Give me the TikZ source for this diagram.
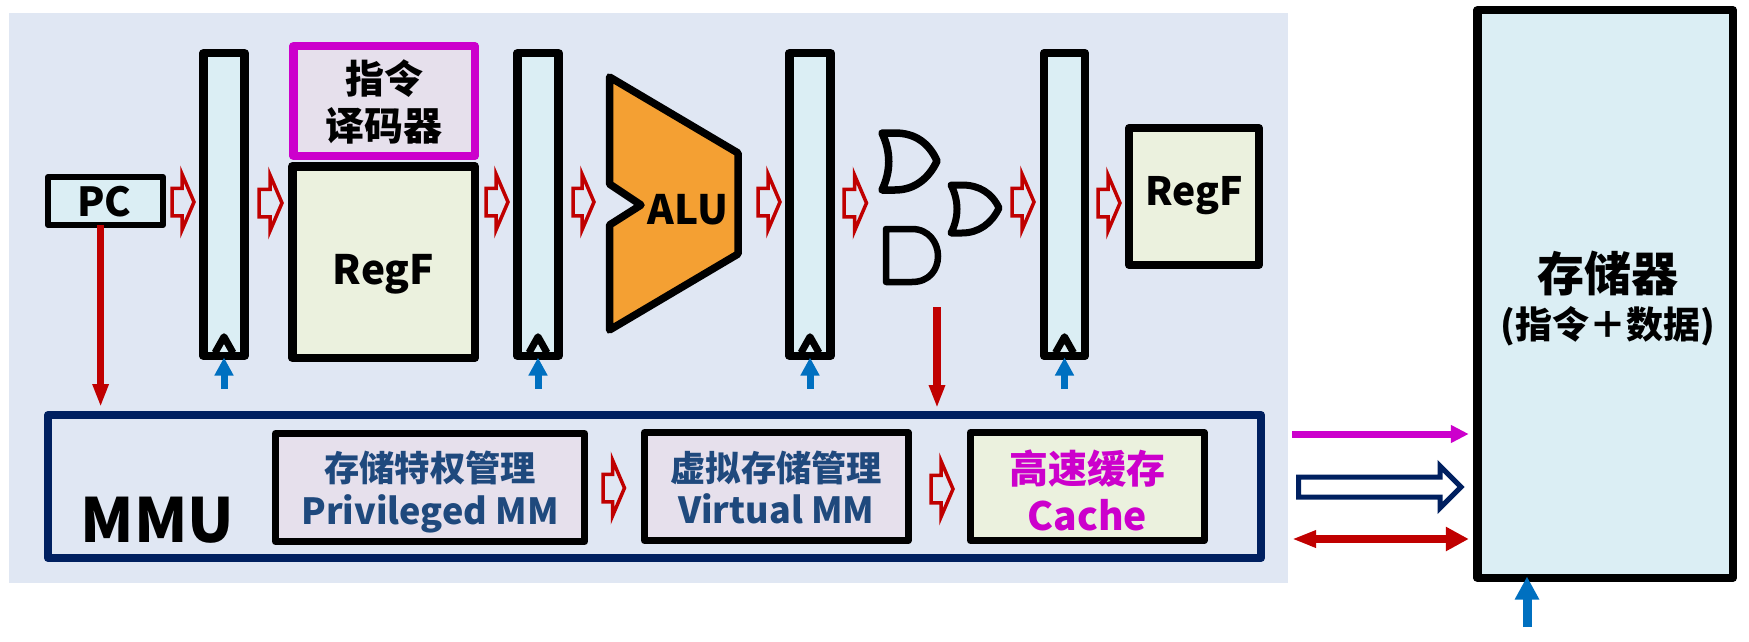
\documentclass[tikz,border=0pt]{standalone}
\usepackage{fontspec}
\setmainfont{Noto Sans CJK SC}
\usetikzlibrary{arrows.meta,calc}
\newdimen\upx \upx=0.75pt
\newcommand{\sz}[2]{\fontsize{\dimexpr#1\upx\relax}{\dimexpr#2\upx\relax}\selectfont}
\newcommand{\tx}[2]{\raisebox{-#1\upx}[0pt][0pt]{\begin{tabular}[c]{@{}c@{}}#2\end{tabular}}}
\definecolor{bgblue}{HTML}{E0E7F3}
\definecolor{regfill}{HTML}{DBEEF4}
\definecolor{greenfill}{HTML}{EBF1DE}
\definecolor{lilac}{HTML}{E6E0EC}
\definecolor{magen}{HTML}{CC00CC}
\definecolor{navy}{HTML}{002060}
\definecolor{dred}{HTML}{C00000}
\definecolor{clockblue}{HTML}{0070C0}
\definecolor{textblue}{HTML}{1F497D}
\definecolor{aluorange}{HTML}{F4A033}
\tikzset{
  x=0.75pt,y=-0.75pt,
  box/.style={draw=black,line width=8.5\upx,line join=round,inner sep=0pt,outer sep=0pt,font=\bfseries},
  regbar/.style={box,fill=regfill,minimum width=41\upx,minimum height=302.5\upx},
  mmbox/.style={box,line width=7\upx,minimum height=108\upx},
  gate/.style={draw=black,line width=7.5\upx,line join=round},
  clk/.style={draw=black,line width=7\upx,line join=round},
  redline/.style={draw=dred,line width=7.5\upx,-{Triangle[length=17.25pt,width=11.25pt]}},
  blueline/.style={draw=clockblue,line width=7\upx,-{Triangle[length=13.5pt,width=13.5pt]}},
  % tail gap, tip gap, shaft half width, head half width, head length, line width, colour
  hollow/.style n args={7}{draw=#7,line width=#6\upx,miter limit=12,to path={
    let \p1=(\tikztostart),\p2=(\tikztotarget) in
    (\x1+#1\upx,\y1+#3\upx) -- (\x2-#2\upx-#5\upx,\y1+#3\upx) -- (\x2-#2\upx-#5\upx,\y1+#4\upx)
    -- (\x2-#2\upx,\y1) -- (\x2-#2\upx-#5\upx,\y1-#4\upx) -- (\x2-#2\upx-#5\upx,\y1-#3\upx)
    -- (\x1+#1\upx,\y1-#3\upx) -- cycle}},
  flow/.style 2 args={hollow={#1}{#2}{13.75}{28}{12}{3.5}{dred}},
}
\begin{document}
\begin{tikzpicture}
\useasboundingbox (0,0) rectangle (1749,642);
\fill[bgblue] (9,13) rectangle (1288,583);

% pipeline registers and blocks
\node[box,line width=6\upx,fill=regfill,minimum width=115\upx,minimum height=48\upx,font=\bfseries\sz{40}{39}] (pc) at (105.5,201) {\tx{14.5}{\hspace*{-2\upx}PC}};
\node[regbar] (r1) at (224,204.5) {};
\node[regbar] (r2) at (538,204.5) {};
\node[regbar] (r3) at (810,204.5) {};
\node[regbar] (r4) at (1064.5,204.5) {};
\node[box,draw=magen,fill=lilac,minimum width=181.5\upx,minimum height=109.5\upx,font=\bfseries\sz{39}{47}] (dec) at (384,101) {\tx{14}{指令\\译码器}};
\node[box,fill=greenfill,minimum width=182.5\upx,minimum height=191.5\upx,font=\bfseries\sz{40.5}{39}] (regf) at (383.5,262) {\tx{21.5}{RegF}};
\node[box,line width=8\upx,fill=greenfill,minimum width=130\upx,minimum height=137\upx,font=\bfseries\sz{39}{39}] (regg) at (1194,196.5) {\tx{9}{RegF}};

% ALU
\draw[draw=black,fill=aluorange,line width=7.5\upx,line join=round,miter limit=12]
  (609.5,77) -- (738,153) -- (738,254) -- (609.5,330) -- (609.5,225) -- (641,205) -- (609.5,184) -- cycle;
\coordinate (aluin) at (610,205);
\coordinate (aluout) at (738,205);
\node[font=\bfseries\sz{40.5}{39},inner sep=0pt] (alu) at (688,208) {\tx{15.5}{ALU}};

% gates
\draw[gate] (882,133) -- (895,133) .. controls (915,133) and (929,143) .. (937,161)
  .. controls (929,178) and (915,190) .. (895,190) -- (882,190)
  .. controls (891,171) and (891,152) .. (882,133) -- cycle;
\draw[gate,line width=7\upx] (951,185) -- (962,185) .. controls (979,185) and (992,193) .. (999,208)
  .. controls (992,223) and (979,233) .. (962,233) -- (951,233)
  .. controls (959,217) and (959,201) .. (951,185) -- cycle;
\draw[gate,line width=6.5\upx] (886,229) -- (912,229) .. controls (929,229) and (938,243) .. (938,256)
  .. controls (938,270) and (929,282) .. (912,282) -- (886,282) -- cycle;
\coordinate (gatein) at (884,161);
\coordinate (gateout) at (998,208);

% MMU
\node[box,draw=navy,line width=8\upx,minimum width=1213\upx,minimum height=143\upx] (mmu) at (654.5,486.5) {};
\node[font=\bfseries\sz{61}{59},inner sep=0pt] (mmulabel) at (157.5,515) {\tx{22}{MMU}};
\node[mmbox,fill=lilac,minimum width=309\upx,text=textblue,font=\bfseries\sz{36}{42}] (pm) at (430,487.5) {\tx{15}{\sz{35.3}{42}存储特权管理\\Privileged MM}};
\node[mmbox,fill=lilac,minimum width=263.6\upx,text=textblue,font=\bfseries\sz{36}{42}] (vm) at (776.3,486.5) {\tx{15.5}{\sz{35.3}{42}虚拟存储管理\\Virtual MM}};
\node[mmbox,fill=greenfill,minimum width=233.6\upx,text=magen,font=\bfseries\sz{39}{47}] (cache) at (1087.3,486.5) {\tx{19}{高速缓存\\Cache}};

% memory
\node[box,fill=regfill,minimum width=255.5\upx,minimum height=567.5\upx,font=\bfseries\sz{37}{47.5}] (mem) at (1605,294) {\hspace*{6\upx}\tx{16}{\sz{47}{47.5}存储器\\(指令＋数据)}};

% clocks
\foreach \r in {r1,r2,r3,r4} {
  \draw[clk] ($(\r.south)+(-9,-3)$) -- ($(\r.south)+(0,-19)$) -- ($(\r.south)+(9,-3)$);
  \coordinate (\r clk) at ($(\r.south)+(0,33)$);
  \draw[blueline,shorten >=1.75\upx] (\r clk) -- (\r.south);
}
\coordinate (memclk) at (1527,627);
\draw[draw=clockblue,line width=9\upx,-{Triangle[length=17.25pt,width=17.25pt]},shorten >=-1.25\upx] (memclk) -- (memclk |- mem.south);

% red control arrows
\draw[redline,shorten >=8\upx] (pc.south -| 100.6,0) -- (mmu.north -| 100.6,0);
\coordinate (cachein) at (937,307);
\draw[redline,shorten >=7\upx] (cachein) -- (cachein |- mmu.north);

% hollow flow arrows
\draw[flow={9}{9.5}] (pc.east |- 0,202) to (r1.west |- 0,202);
\draw[flow={14.5}{10.25}] (r1.east |- 0,203) to (regf.west |- 0,203);
\draw[flow={11.25}{9.5}] (regf.east |- 0,202) to (r2.west |- 0,202);
\draw[flow={14.5}{16}] (r2.east |- 0,202) to (aluin |- 0,202);
\draw[flow={20}{9.5}] (aluout |- 0,202) to (r3.west |- 0,202);
\draw[flow={13.5}{17.5}] (r3.east |- 0,203) to (gatein |- 0,203);
\draw[flow={14}{10}] (gateout |- 0,202) to (r4.west |- 0,202);
\draw[flow={13}{9}] (r4.east |- 0,203) to (regg.west |- 0,203);
\draw[flow={18.5}{20}] (pm.east |- 0,488) to (vm.west |- 0,488);
\draw[flow={23}{17.5}] (vm.east |- 0,489) to (cache.west |- 0,489);

% memory bus
\draw[draw=magen,line width=7\upx,-{Triangle[length=13.5pt,width=12.75pt]},shorten <=31\upx,shorten >=8.5\upx]
  (mmu.east |- 0,434) -- (mem.west |- 0,434);
\draw[hollow={37.5}{16.25}{10}{21}{21}{5}{navy}] (mmu.east |- 0,487) to (mem.west |- 0,487);
\draw[draw=dred,line width=8\upx,{Triangle[length=18pt,width=12pt]}-{Triangle[length=17.25pt,width=17.25pt]},shorten <=31\upx,shorten >=8.5\upx]
  (mmu.east |- 0,539) -- (mem.west |- 0,539);
\end{tikzpicture}
\end{document}
